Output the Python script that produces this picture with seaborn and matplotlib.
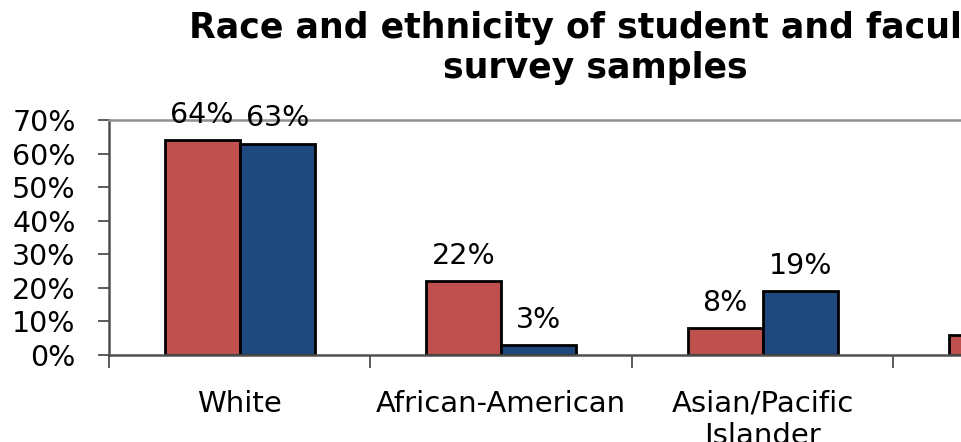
import matplotlib
matplotlib.use("Agg")
import matplotlib.pyplot as plt
import seaborn as sns
import pandas as pd

categories = ["White", "African-American", "Asian/Pacific\nIslander", "Hispanic"]
tick_labels = ["0%", "10%", "20%", "30%", "40%", "50%", "60%", "70%"]
groups = ["Students", "Faculty"]
students = [64, 22, 8, 6]
faculty = [63, 3, 19, 5]

df = pd.DataFrame({
    "category": categories * 2,
    "group": [groups[0]] * len(categories) + [groups[1]] * len(categories),
    "value": students + faculty,
})

sns.set_theme(style="white")
plt.rcParams["font.family"] = ["DejaVu Sans"]

W, H = 962, 442
fig = plt.figure(figsize=(W / 100, H / 100), dpi=100)
cat_w = 261.5
left, right_px = 109, 109 + cat_w * len(categories)
top, bottom = 120, 355
ax = fig.add_axes([left / W, (H - bottom) / H, (right_px - left) / W, (bottom - top) / H])

sns.barplot(data=df, x="category", y="value", hue="group",
            palette=["#C0504D", "#1F497D"], saturation=1, width=0.574, gap=0,
            edgecolor="black", linewidth=2, ax=ax, legend=False)

ax.set_ylim(0, 70)
ax.set_xlim(-0.5, len(categories) - 0.5)
ax.set_yticks(range(0, 71, 10))
ax.set_yticklabels(tick_labels, fontsize=20.5, color="black")
ax.tick_params(axis="y", direction="out", length=8, width=1.2, color="#404040", pad=16, left=True)
ax.set_xticks(range(len(categories)))
ax.set_xticklabels(categories, fontsize=21, color="black", linespacing=1.2)
ax.tick_params(axis="x", which="major", length=0, pad=25)
ax.set_xticks([k - 0.5 for k in range(len(categories) + 1)], minor=True)
ax.tick_params(axis="x", which="minor", direction="out", length=9, width=1.2, color="#404040", bottom=True)
ax.set_xlabel("")
ax.set_ylabel("")

for s in ["left", "bottom"]:
    ax.spines[s].set_color("#505050")
    ax.spines[s].set_linewidth(1.8)
ax.spines["top"].set_color("#909090")
ax.spines["top"].set_linewidth(1.8)
ax.spines["right"].set_visible(False)
ax.grid(False)

for cont in ax.containers:
    ax.bar_label(cont, labels=[f"{v:.0f}%" for v in cont.datavalues],
                 padding=8, fontsize=20.5, color="black")

fig.text(595 / W, 1 - 48 / H, "Race and ethnicity of student and faculty\nsurvey samples",
         ha="center", va="center", fontsize=25, fontweight="bold", color="black",
         linespacing=1.25)

fig.savefig("out.png", dpi=100)
